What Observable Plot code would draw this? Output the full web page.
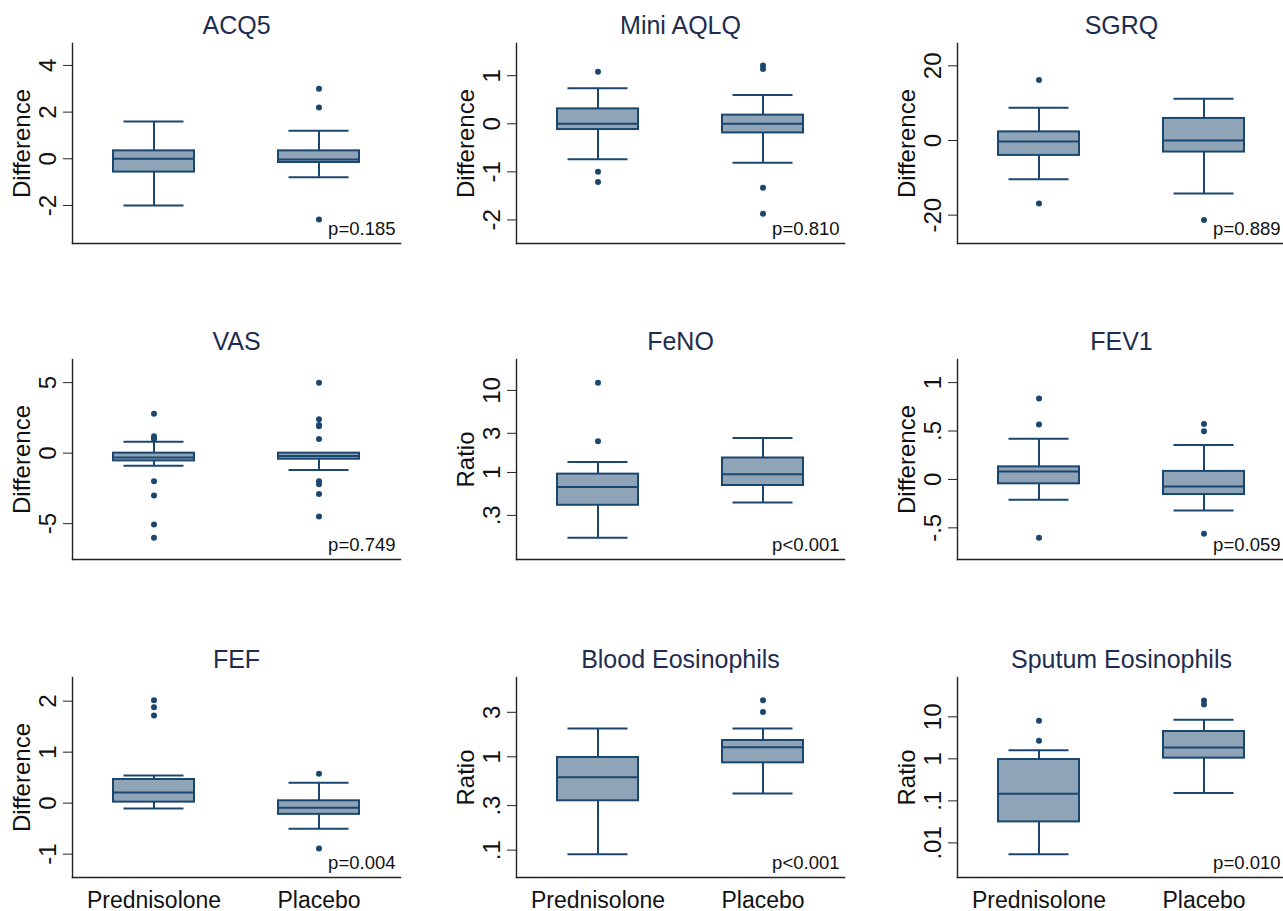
<!DOCTYPE html>
<html>
<head>
<meta charset="utf-8">
<script src="https://cdn.jsdelivr.net/npm/d3@7"></script>
<script src="https://cdn.jsdelivr.net/npm/@observablehq/plot@0.6"></script>
<style>
  html, body { margin: 0; padding: 0; background: #fff; overflow: hidden; }
  #wrap { position: relative; width: 1283px; height: 911px; }
  .panel { position: absolute; }
</style>
</head>
<body>
<div id="wrap"></div>
<script>
// ---- Data (box stats: [whisker low, Q1, median, Q3, whisker high]) ----
const groups = ["Prednisolone", "Placebo"];
const titles = ["ACQ5", "Mini AQLQ", "SGRQ", "VAS", "FeNO", "FEV1", "FEF", "Blood Eosinophils", "Sputum Eosinophils"];
const yLabels = ["Difference", "Difference", "Difference", "Difference", "Ratio", "Difference", "Difference", "Ratio", "Ratio"];
const pValues = ["p=0.185", "p=0.810", "p=0.889", "p=0.749", "p<0.001", "p=0.059", "p=0.004", "p<0.001", "p=0.010"];

const acq5Pred = [-2.0, -0.57, 0.0, 0.34, 1.6];
const acq5Plac = [-0.79, -0.16, -0.03, 0.34, 1.2];
const acq5OutPred = [];
const acq5OutPlac = [3.0, 2.2, -2.6];

const aqlqPred = [-0.74, -0.12, 0.0, 0.31, 0.74];
const aqlqPlac = [-0.81, -0.19, 0.0, 0.18, 0.6];
const aqlqOutPred = [1.08, -1.0, -1.21];
const aqlqOutPlac = [1.21, 1.14, -1.33, -1.87];

const sgrqPred = [-10.4, -4.0, -0.3, 2.3, 8.75];
const sgrqPlac = [-14.2, -3.1, 0.0, 5.9, 11.2];
const sgrqOutPred = [16.2, -16.9];
const sgrqOutPlac = [-21.3];

const vasPred = [-0.9, -0.55, -0.3, 0.0, 0.8];
const vasPlac = [-1.19, -0.43, -0.2, 0.0, 0.0];
const vasOutPred = [2.8, 1.2, 1.1, 1.0, -2.0, -3.0, -5.06, -6.0];
const vasOutPlac = [5.0, 2.4, 2.0, 1.9, 1.0, -2.0, -2.2, -2.9, -4.5];

const fenoPred = [0.16, 0.398, 0.667, 0.954, 1.34];
const fenoPlac = [0.43, 0.693, 0.95, 1.5, 2.63];
const fenoOutPred = [12.4, 2.4];
const fenoOutPlac = [];

const fev1Pred = [-0.21, -0.045, 0.083, 0.13, 0.42];
const fev1Plac = [-0.322, -0.156, -0.073, 0.083, 0.356];
const fev1OutPred = [0.837, 0.567, -0.602];
const fev1OutPlac = [0.574, 0.498, -0.56];

const fefPred = [-0.105, 0.02, 0.209, 0.464, 0.54];
const fefPlac = [-0.5, -0.22, -0.09, 0.046, 0.4];
const fefOutPred = [2.02, 1.88, 1.72];
const fefOutPlac = [0.575, -0.89];

const bloodPred = [0.0906, 0.338, 0.605, 0.984, 2.01];
const bloodPlac = [0.405, 0.862, 1.269, 1.496, 2.01];
const bloodOutPred = [];
const bloodOutPlac = [4.05, 3.03];

const sputumPred = [0.0054, 0.0316, 0.147, 0.964, 1.61];
const sputumPlac = [0.155, 1.04, 1.86, 4.48, 8.48];
const sputumOutPred = [8.03, 2.68];
const sputumOutPlac = [24.5, 19.7];

// y-axis settings
const yDomains = [[-3.63, 4.94], [-2.49, 1.67], [-27.6, 25.98], [-7.54, 6.64], [0.0869, 23.8], [-0.827, 1.239], [-1.458, 2.464], [0.0509, 7.08], [0.0015, 86.4]];
const yLog = [false, false, false, false, true, false, false, true, true];
const yTicks = [[-2, 0, 2, 4], [-2, -1, 0, 1], [-20, 0, 20], [-5, 0, 5], [0.3, 1, 3, 10], [-0.5, 0, 0.5, 1], [-1, 0, 1, 2], [0.1, 0.3, 1, 3], [0.01, 0.1, 1, 10]];
const yTickLabels = [["-2", "0", "2", "4"], ["-2", "-1", "0", "1"], ["-20", "0", "20"], ["-5", "0", "5"], [".3", "1", "3", "10"], ["-.5", "0", ".5", "1"], ["-1", "0", "1", "2"], [".1", ".3", "1", "3"], [".01", ".1", "1", "10"]];

const boxStats = [[acq5Pred, acq5Plac], [aqlqPred, aqlqPlac], [sgrqPred, sgrqPlac], [vasPred, vasPlac], [fenoPred, fenoPlac], [fev1Pred, fev1Plac], [fefPred, fefPlac], [bloodPred, bloodPlac], [sputumPred, sputumPlac]];
const outlierSets = [[acq5OutPred, acq5OutPlac], [aqlqOutPred, aqlqOutPlac], [sgrqOutPred, sgrqOutPlac], [vasOutPred, vasOutPlac], [fenoOutPred, fenoOutPlac], [fev1OutPred, fev1OutPlac], [fefOutPred, fefOutPlac], [bloodOutPred, bloodOutPlac], [sputumOutPred, sputumOutPlac]];

// ---- Layout ----
const colLeft = [0, 444, 885];
const rowTop = [0, 316, 634];
const marginLeft = 72, marginTop = 43, plotW = 328, plotH = 200, marginRight = 12, marginBottom = 40;
const navy = "#1a476f";
const boxFill = "#90a4b8";
const titleColor = "#1e2d4f";

const wrap = document.getElementById("wrap");

titles.forEach((title, i) => {
  const row = Math.floor(i / 3), col = i % 3;
  const boxes = groups.map((g, j) => {
    const s = boxStats[i][j];
    return {group: g, lo: s[0], q1: s[1], median: s[2], q3: s[3], hi: s[4]};
  });
  const outliers = groups.flatMap((g, j) => outlierSets[i][j].map(v => ({group: g, value: v})));
  const tickLabelMap = new Map(yTicks[i].map((t, k) => [t, yTickLabels[i][k]]));

  const marks = [
    Plot.frame({anchor: "left", stroke: "#222", strokeWidth: 1.4}),
    Plot.frame({anchor: "bottom", stroke: "#222", strokeWidth: 1.4}),
    Plot.axisY({ticks: yTicks[i], tickFormat: d => tickLabelMap.get(d), tickSize: 9, tickPadding: 8, tickRotate: -90, label: null, stroke: "#222", fill: "#111", fontSize: 24}),
    Plot.ruleX(boxes, {x: "group", y1: "lo", y2: "q1", stroke: navy, strokeWidth: 2}),
    Plot.ruleX(boxes, {x: "group", y1: "q3", y2: "hi", stroke: navy, strokeWidth: 2}),
    Plot.tickY(boxes, {x: "group", y: "lo", stroke: navy, strokeWidth: 2, insetLeft: 10.5, insetRight: 10.5}),
    Plot.tickY(boxes, {x: "group", y: "hi", stroke: navy, strokeWidth: 2, insetLeft: 10.5, insetRight: 10.5}),
    Plot.barY(boxes, {x: "group", y1: "q1", y2: "q3", fill: boxFill, stroke: navy, strokeWidth: 2}),
    Plot.tickY(boxes, {x: "group", y: "median", stroke: navy, strokeWidth: 2}),
    Plot.dot(outliers, {x: "group", y: "value", r: 3, fill: navy, stroke: "none"}),
    Plot.text([title], {text: d => d, frameAnchor: "top", lineAnchor: "bottom", dy: -10, fontSize: 25, fill: titleColor}),
    Plot.text([pValues[i]], {text: d => d, frameAnchor: "bottom-right", textAnchor: "end", lineAnchor: "bottom", dx: -5, dy: -9, fontSize: 18.5, fill: "#111"}),
    Plot.text([yLabels[i]], {text: d => d, frameAnchor: "left", rotate: -90, lineAnchor: "bottom", textAnchor: "middle", dx: -43, fontSize: 24, fill: "#111"})
  ];
  if (row === 2) {
    marks.push(Plot.axisX({tickSize: 0, tickPadding: 14, label: null, fontSize: 23, fill: "#111"}));
  }

  const chart = Plot.plot({
    width: marginLeft + plotW + marginRight,
    height: marginTop + plotH + marginBottom,
    marginLeft, marginTop, marginRight, marginBottom,
    style: {fontFamily: "'Liberation Sans', Arial, sans-serif", fontSize: "22px", background: "transparent"},
    x: {type: "band", domain: groups, paddingInner: 0.512, paddingOuter: 0.244, axis: null},
    y: {type: yLog[i] ? "log" : "linear", domain: yDomains[i], axis: null},
    marks
  });
  chart.classList.add("panel");
  chart.style.left = colLeft[col] + "px";
  chart.style.top = rowTop[row] + "px";
  chart.style.position = "absolute";
  chart.style.overflow = "visible";
  wrap.appendChild(chart);
});
</script>
</body>
</html>
